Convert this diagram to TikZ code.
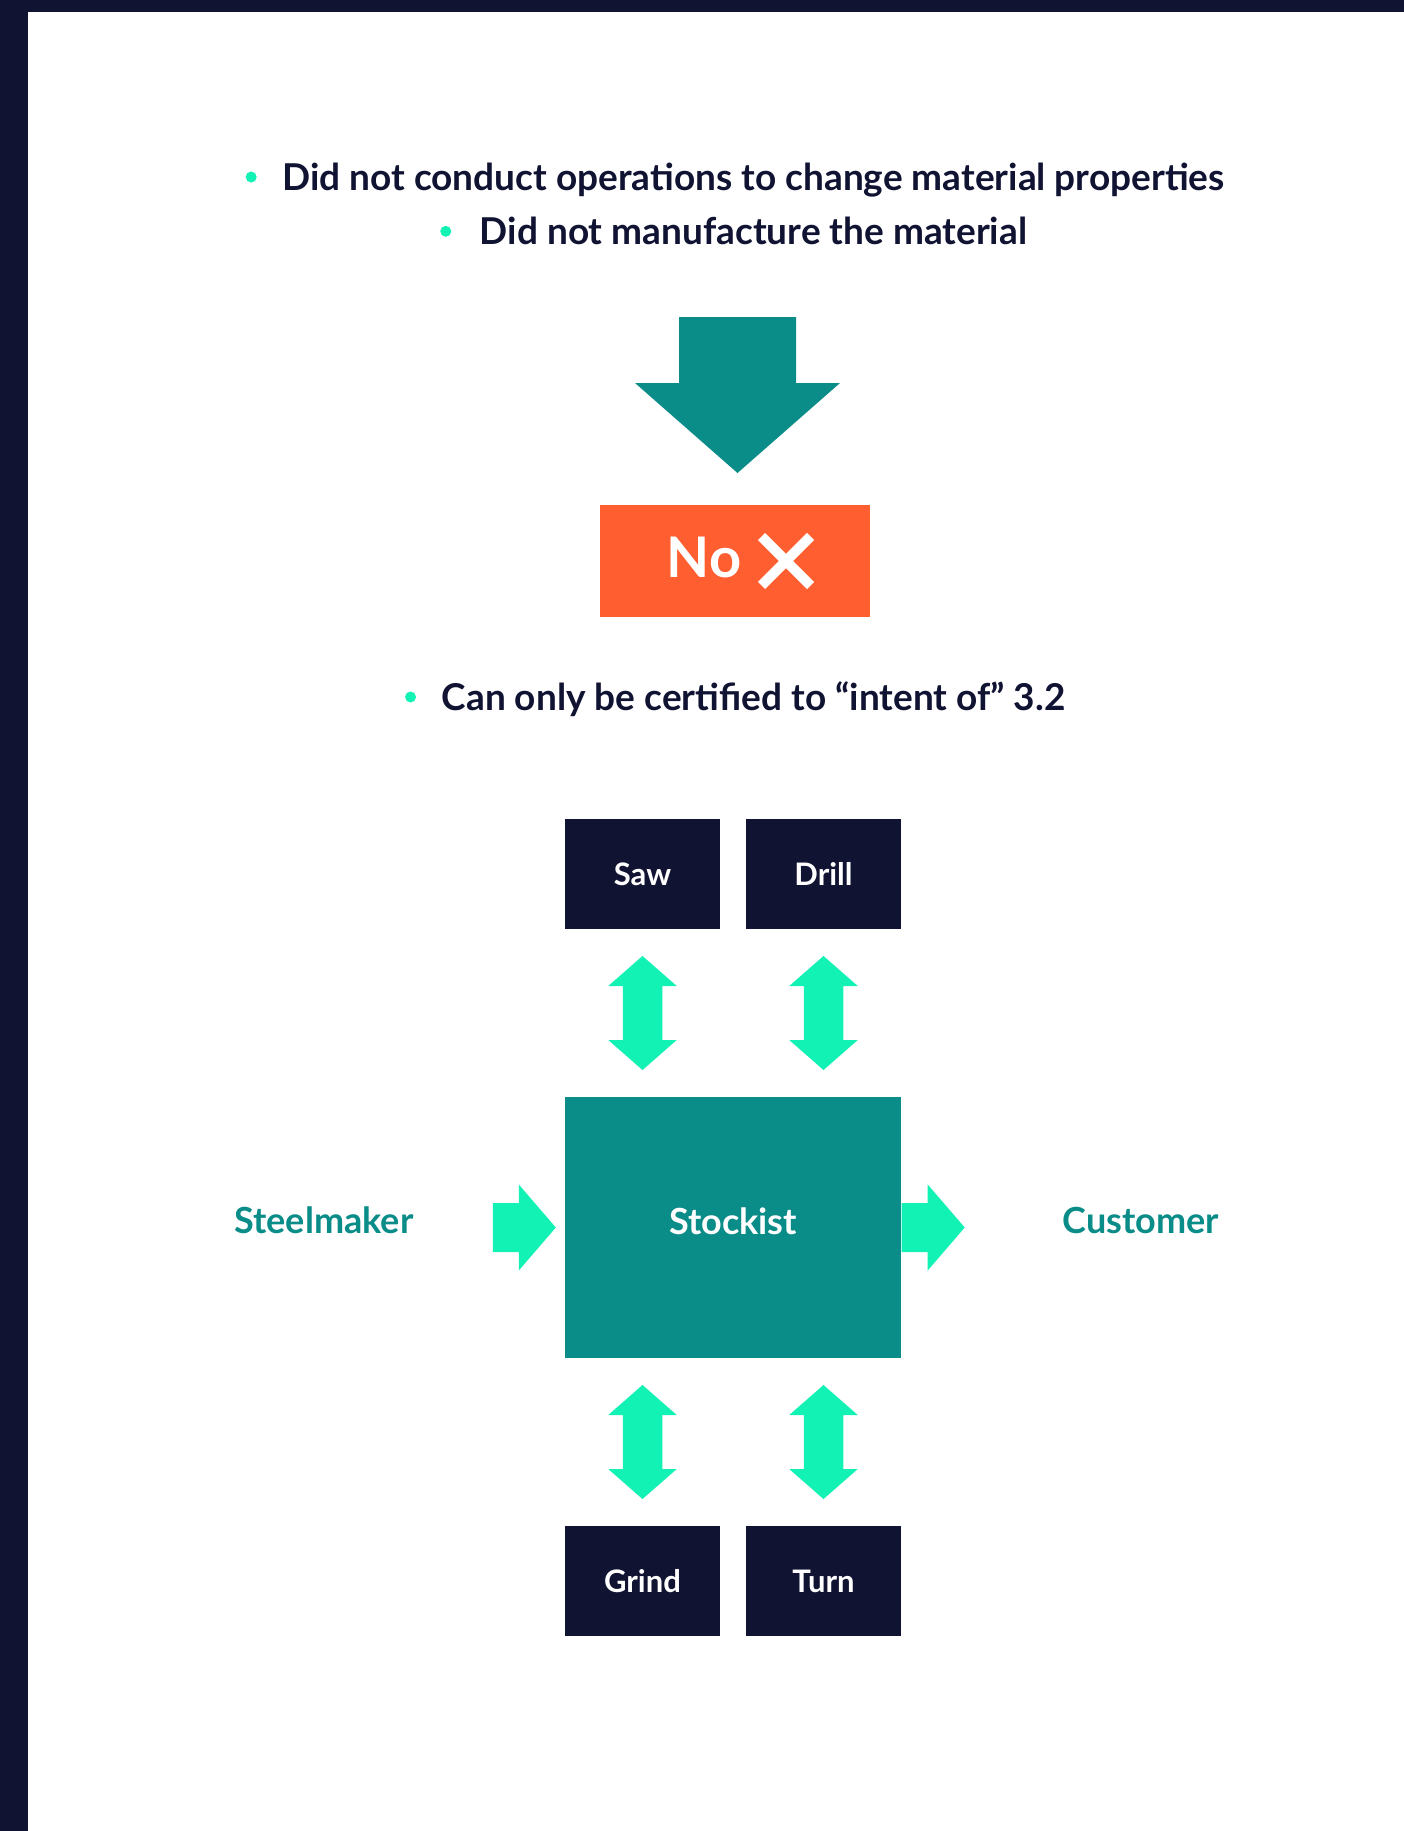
\documentclass[tikz,border=0pt]{standalone}
\usepackage{fontspec}
\setmainfont{Lato}
\usetikzlibrary{positioning,calc}
\definecolor{navy}{HTML}{111333}
\definecolor{deepteal}{HTML}{0A8C88}
\definecolor{mint}{HTML}{12F2B4}
\definecolor{flame}{HTML}{FF5E31}

\begin{document}
\begin{tikzpicture}[x=1pt,y=-1pt,
  bulletline/.style={font=\fontsize{37}{44}\selectfont\bfseries, text=navy, inner sep=0pt, anchor=base},
  bulletdot/.style={circle, fill=mint, minimum size=11pt, inner sep=0pt},
  tool/.style={fill=navy, text=white, minimum width=155pt, minimum height=110pt, inner sep=0pt, font=\fontsize{31}{36}\selectfont\bfseries},
  sidelabel/.style={text=deepteal, inner sep=0pt, anchor=base, font=\fontsize{36}{42}\selectfont\bfseries},
  updown/.pic={\fill[mint] (0,-57) -- (34.25,-27) -- (19.75,-27) -- (19.75,27) -- (34.25,27) -- (0,57)
    -- (-34.25,27) -- (-19.75,27) -- (-19.75,-27) -- (-34.25,-27) -- cycle;},
  rightward/.pic={\fill[mint] (-31.5,-24.5) -- (-5.5,-24.5) -- (-5.5,-43) -- (31.5,0) -- (-5.5,43)
    -- (-5.5,24.5) -- (-31.5,24.5) -- cycle;}]
\useasboundingbox (0,0) rectangle (1404,1831);
\fill[white] (0,0) rectangle (1404,1831);
\fill[navy] (0,0) rectangle (1404,12);
\fill[navy] (0,0) rectangle (28,1831);

% conditions
\node[bulletline] (prop) at (753.5,190) {Did not conduct operations to change material properties};
\node[bulletline] (manu) at (753.5,244.3) {Did not manufacture the material};
\node[bulletdot] (propdot) at ($(prop.base west)+(-31,-13)$) {};
\node[bulletdot] (manudot) at ($(manu.base west)+(-34,-13)$) {};

\fill[deepteal] (679,317) -- (796,317) -- (796,383) -- (840,383) -- (737.5,473) -- (635,383) -- (679,383) -- cycle;

\node[fill=flame, minimum width=270pt, minimum height=112pt] (no) at (735,561) {};
\node[text=white, inner sep=0pt, anchor=base, font=\fontsize{56}{60}\selectfont\bfseries] (notext) at (704,577.3) {No};
\draw[white, line width=10pt] (761.5,536.5) -- (810.5,585.5) (761.5,585.5) -- (810.5,536.5);

\node[bulletline] (cert) at (753.5,710) {Can only be certified to “intent of” 3.2};
\node[bulletdot] (certdot) at ($(cert.base west)+(-31,-13)$) {};

% stockist and its operations
\node[tool] (saw) at (642.5,874) {Saw};
\node[tool] (drill) at (823.5,874) {Drill};
\node[fill=deepteal, text=white, minimum width=336pt, minimum height=261pt, text depth=13pt,
  font=\fontsize{36}{42}\selectfont\bfseries] (stockist) at (733,1227.5) {Stockist};
\node[tool] (grind) at (642.5,1581) {Grind};
\node[tool] (turn) at (823.5,1581) {Turn};
\node[sidelabel] (steel) at (324,1233.5) {Steelmaker};
\node[sidelabel] (cust) at (1141,1233) {Customer};

\pic at ($(saw.south)!0.5!(saw.south |- stockist.north)$) {updown};
\pic at ($(drill.south)!0.5!(drill.south |- stockist.north)$) {updown};
\pic at ($(grind.north)!0.5!(grind.north |- stockist.south)$) {updown};
\pic at ($(turn.north)!0.5!(turn.north |- stockist.south)$) {updown};
\pic at ($(stockist.west)+(-40.5,0)$) {rightward};
\pic at ($(stockist.east)+(32,0)$) {rightward};
\end{tikzpicture}
\end{document}
